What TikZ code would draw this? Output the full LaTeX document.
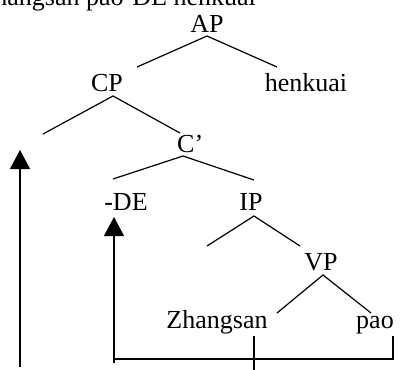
\documentclass[tikz,border=0pt]{standalone}
\usepackage{fontspec}
\setmainfont{Liberation Serif}
\usetikzlibrary{arrows.meta}
\begin{document}
\begin{tikzpicture}[x=1bp,y=-1bp,
  lbl/.style={inner sep=0pt,anchor=base,font=\fontsize{26bp}{30bp}\selectfont},
  branch/.style={line width=1.2bp},
  mover/.style={line width=1.2bp,-{Triangle[width=20bp,length=19bp]}}]
\useasboundingbox (0,0) rectangle (401,370);
\begin{scope}
\clip (0,0) rectangle (401,370);
\node[lbl,anchor=base east] (title) at (256,5) {Zhangsan pao-DE henkuai};
\end{scope}
\node[lbl] (AP) at (207,32) {AP};
\node[lbl] (CP) at (107,91) {CP};
\node[lbl] (henkuai) at (306,91) {henkuai};
\node[lbl,anchor=base west] (Cbar) at (177,152) {C’};
\node[lbl] (DE) at (126,210) {-DE};
\node[lbl] (IP) at (251,210) {IP};
\node[lbl] (VP) at (321,270) {VP};
\node[lbl] (Zhangsan) at (217,328) {Zhangsan};
\node[lbl] (pao) at (375,328) {pao};
% branch points
\coordinate (APb) at (207,36);
\coordinate (APl) at (137,67);
\coordinate (APr) at (277,67);
\coordinate (CPb) at (113,96);
\coordinate (CPl) at (43,134);
\coordinate (CPr) at (180,133);
\coordinate (Cb) at (183,156);
\coordinate (Cl) at (113,179);
\coordinate (Cr) at (254,180);
\coordinate (IPb) at (254,216);
\coordinate (IPl) at (207,246);
\coordinate (IPr) at (300,246);
\coordinate (VPb) at (323,275);
\coordinate (VPl) at (277,313);
\coordinate (VPr) at (371,313);
\draw[branch] (APl) -- (APb) -- (APr);
\draw[branch] (CPl) -- (CPb) -- (CPr);
\draw[branch] (Cl) -- (Cb) -- (Cr);
\draw[branch] (IPl) -- (IPb) -- (IPr);
\draw[branch] (VPl) -- (VPb) -- (VPr);
% movement lines
\coordinate (Ztop) at (254,336);
\coordinate (Zbot) at (254,370);
\coordinate (ptop) at (393,336);
\coordinate (pcorner) at (393,359);
\coordinate (lcorner) at (114,359);
\coordinate (lfoot) at (114,363);
\coordinate (DEtip) at (114,217);
\coordinate (farfoot) at (20,367);
\coordinate (fartip) at (20,150);
\draw[branch] (Ztop) -- (Zbot);
\draw[branch] (ptop) -- (pcorner) -- (lcorner);
\draw[mover] (lfoot) -- (DEtip);
\draw[mover] (farfoot) -- (fartip);
\end{tikzpicture}
\end{document}
